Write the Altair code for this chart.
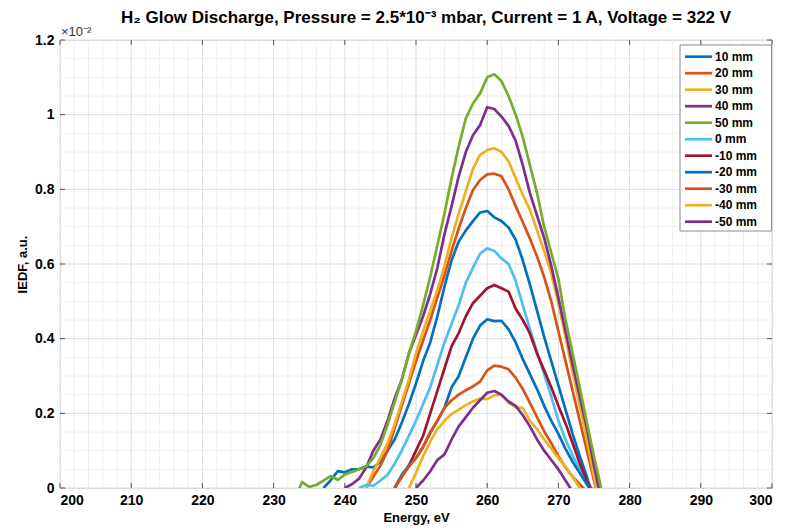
import altair as alt
import pandas as pd

# ---- data (IEDF in units of 1e-2, energy in eV, 1 eV steps from each start) ----
series_names = ["10 mm", "20 mm", "30 mm", "40 mm", "50 mm", "0 mm",
                "-10 mm", "-20 mm", "-30 mm", "-40 mm", "-50 mm"]
series_colors = ["#0072BD", "#D95319", "#EDB120", "#7E2F8E", "#77AC30", "#4DBEEE",
                 "#A2142F", "#0072BD", "#D95319", "#EDB120", "#7E2F8E"]

start_10 = 237
iedf_10 = [0, 0.02, 0.045, 0.042, 0.05, 0.05, 0.058, 0.055, 0.07, 0.1, 0.13, 0.175, 0.225,
           0.28, 0.34, 0.39, 0.46, 0.54, 0.61, 0.66, 0.69, 0.715, 0.738, 0.742, 0.725,
           0.715, 0.698, 0.665, 0.61, 0.545, 0.475, 0.405, 0.34, 0.275, 0.21, 0.145,
           0.085, 0.03, -0.03]

start_20 = 243
iedf_20 = [0, 0.03, 0.06, 0.1, 0.16, 0.22, 0.28, 0.34, 0.395, 0.45, 0.51, 0.57, 0.635,
           0.695, 0.75, 0.798, 0.825, 0.84, 0.842, 0.835, 0.8, 0.755, 0.712, 0.668, 0.62,
           0.565, 0.5, 0.42, 0.34, 0.26, 0.18, 0.1, 0.02, -0.06]

start_30 = 243
iedf_30 = [0, 0.045, 0.08, 0.12, 0.17, 0.23, 0.29, 0.36, 0.42, 0.475, 0.53, 0.595, 0.67,
           0.735, 0.795, 0.855, 0.892, 0.905, 0.91, 0.9, 0.875, 0.83, 0.785, 0.745, 0.69,
           0.635, 0.575, 0.495, 0.405, 0.31, 0.22, 0.13, 0.03, -0.06]

start_40 = 240
iedf_40 = [0, 0.01, 0.025, 0.055, 0.1, 0.13, 0.18, 0.24, 0.29, 0.36, 0.41, 0.46, 0.52,
           0.59, 0.68, 0.755, 0.835, 0.9, 0.945, 0.972, 1.02, 1.015, 0.995, 0.97, 0.93,
           0.865, 0.79, 0.73, 0.67, 0.595, 0.51, 0.42, 0.33, 0.245, 0.16, 0.06, -0.03]

start_50 = 233
iedf_50 = [-0.03, 0.016, 0.003, 0.008, 0.02, 0.032, 0.022, 0.036, 0.043, 0.05, 0.058, 0.08,
           0.115, 0.17, 0.23, 0.29, 0.36, 0.42, 0.49, 0.566, 0.65, 0.735, 0.83, 0.915, 0.99,
           1.03, 1.057, 1.1, 1.108, 1.09, 1.05, 1.0, 0.94, 0.865, 0.79, 0.7, 0.63, 0.56,
           0.45, 0.36, 0.27, 0.175, 0.085, 0.0]

start_0 = 242
iedf_0 = [0, 0.008, 0.006, 0.02, 0.035, 0.065, 0.1, 0.14, 0.18, 0.225, 0.27, 0.33, 0.39,
          0.44, 0.49, 0.55, 0.59, 0.628, 0.642, 0.635, 0.615, 0.6, 0.555, 0.49, 0.425,
          0.365, 0.305, 0.245, 0.18, 0.13, 0.087, 0.05, 0.02, -0.01]

start_m10 = 247
iedf_m10 = [0, 0.03, 0.06, 0.1, 0.14, 0.2, 0.26, 0.32, 0.38, 0.415, 0.46, 0.495, 0.515,
            0.535, 0.544, 0.535, 0.526, 0.48, 0.45, 0.414, 0.36, 0.315, 0.27, 0.22, 0.173,
            0.12, 0.066, 0.02, -0.02]

start_m20 = 247
iedf_m20 = [0, 0.035, 0.06, 0.08, 0.11, 0.147, 0.18, 0.215, 0.27, 0.3, 0.35, 0.4, 0.435,
            0.452, 0.447, 0.448, 0.425, 0.39, 0.345, 0.305, 0.265, 0.22, 0.18, 0.145, 0.105,
            0.07, 0.04, 0.01, -0.02]

start_m30 = 247
iedf_m30 = [0, 0.03, 0.057, 0.08, 0.11, 0.15, 0.18, 0.215, 0.235, 0.25, 0.262, 0.272, 0.285,
            0.315, 0.328, 0.325, 0.318, 0.295, 0.265, 0.228, 0.19, 0.152, 0.12, 0.085, 0.055,
            0.03, 0.01, -0.01]

start_m40 = 249
iedf_m40 = [0, 0.04, 0.085, 0.125, 0.158, 0.18, 0.198, 0.21, 0.222, 0.232, 0.24, 0.238,
            0.248, 0.25, 0.228, 0.216, 0.214, 0.18, 0.158, 0.13, 0.105, 0.08, 0.057, 0.03, 0.0]

start_m50 = 250
iedf_m50 = [0, 0.02, 0.045, 0.075, 0.09, 0.13, 0.165, 0.19, 0.215, 0.235, 0.255, 0.26,
            0.25, 0.232, 0.22, 0.195, 0.165, 0.13, 0.1, 0.075, 0.05, 0.02, -0.01]

x_ticks = [200, 210, 220, 230, 240, 250, 260, 270, 280, 290, 300]
y_ticks = [0, 0.2, 0.4, 0.6, 0.8, 1.0, 1.2]
x_minor = [v for v in range(200, 301, 2) if v % 10 != 0]
y_minor = [round(v * 0.05, 2) for v in range(0, 25) if v % 4 != 0]

starts = [start_10, start_20, start_30, start_40, start_50, start_0,
          start_m10, start_m20, start_m30, start_m40, start_m50]
values = [iedf_10, iedf_20, iedf_30, iedf_40, iedf_50, iedf_0,
          iedf_m10, iedf_m20, iedf_m30, iedf_m40, iedf_m50]

rows = []
for k, (name, s0, vals) in enumerate(zip(series_names, starts, values)):
    for i, v in enumerate(vals):
        rows.append({"series": name, "order": k, "energy": s0 + i, "iedf": v})
df = pd.DataFrame(rows)
legend_df = pd.DataFrame({"series": series_names})

FONT = "Liberation Sans"
W, H = 712, 448

xscale = alt.Scale(domain=[200, 300], nice=False, zero=False)
yscale = alt.Scale(domain=[0, 1.2], nice=False, zero=False)
cscale = alt.Scale(domain=series_names, range=series_colors)

minor_x = alt.Chart(pd.DataFrame({"v": x_minor})).mark_rule(
    color="#f0f0f0", strokeWidth=1).encode(x=alt.X("v:Q", scale=xscale))
minor_y = alt.Chart(pd.DataFrame({"v": y_minor})).mark_rule(
    color="#f0f0f0", strokeWidth=1).encode(y=alt.Y("v:Q", scale=yscale, axis=None))
major_x = alt.Chart(pd.DataFrame({"v": x_ticks})).mark_rule(
    color="#dedede", strokeWidth=1).encode(x=alt.X("v:Q", scale=xscale))
major_y = alt.Chart(pd.DataFrame({"v": y_ticks})).mark_rule(
    color="#dedede", strokeWidth=1).encode(y=alt.Y("v:Q", scale=yscale, axis=None))

lines = alt.Chart(df).mark_line(strokeWidth=2.7, clip=True, strokeJoin="round").encode(
    x=alt.X("energy:Q", scale=xscale,
            axis=alt.Axis(values=x_ticks, title="Energy, eV", grid=False, ticks=False,
                          domain=False, labelFontSize=14, labelFontWeight="bold",
                          labelFont=FONT, labelColor="black", labelPadding=5,
                          titleFont=FONT, titleFontSize=13, titleFontWeight="bold",
                          titleColor="black", titlePadding=4, format="d")),
    y=alt.Y("iedf:Q", scale=yscale,
            axis=alt.Axis(values=y_ticks, title="IEDF, a.u.", grid=False, ticks=False,
                          domain=False, labelFontSize=14, labelFontWeight="bold",
                          labelFont=FONT, labelColor="black", labelPadding=6,
                          labelExpr="datum.value == 0 ? '0' : datum.value == 1 ? '1' : format(datum.value, '.1f')",
                          titleFont=FONT, titleFontSize=13, titleFontWeight="bold",
                          titleColor="black", titlePadding=5, orient="left")),
    color=alt.Color("series:N", scale=cscale, legend=None),
    detail="order:O",
    order="energy:Q",
)

tick_len = 5
tick_bottom = alt.Chart(pd.DataFrame({"v": x_ticks})).mark_rule(color="#555").encode(
    x=alt.X("v:Q", scale=xscale), y=alt.value(H), y2=alt.value(H - tick_len))
tick_top = alt.Chart(pd.DataFrame({"v": x_ticks})).mark_rule(color="#555").encode(
    x=alt.X("v:Q", scale=xscale), y=alt.value(0), y2=alt.value(tick_len))
tick_left = alt.Chart(pd.DataFrame({"v": y_ticks})).mark_rule(color="#555").encode(
    y=alt.Y("v:Q", scale=yscale, axis=None), x=alt.value(0), x2=alt.value(tick_len))
tick_right = alt.Chart(pd.DataFrame({"v": y_ticks})).mark_rule(color="#555").encode(
    y=alt.Y("v:Q", scale=yscale, axis=None), x=alt.value(W), x2=alt.value(W - tick_len))

expo = alt.Chart(pd.DataFrame({"t": ["×10⁻²"]})).mark_text(
    align="left", baseline="alphabetic", fontSize=13, font=FONT, color="#333").encode(
    x=alt.value(1), y=alt.value(-4), text="t:N")

# ---- legend box (top-right, inside the axes) ----
leg_y = alt.Y("series:N", axis=None,
              scale=alt.Scale(type="point", domain=series_names, range=[16.7, 181.7],
                              padding=0))
leg_box = alt.Chart(pd.DataFrame({"a": [0]})).mark_rect(
    fill="white", stroke="#8c8c8c", strokeWidth=1).encode(
    x=alt.value(620), x2=alt.value(711.5), y=alt.value(5), y2=alt.value(191))
leg_sym = alt.Chart(legend_df).mark_rule(strokeWidth=2.7).encode(
    x=alt.value(625), x2=alt.value(652), y=leg_y,
    color=alt.Color("series:N", scale=cscale, legend=None))
leg_txt = alt.Chart(legend_df).mark_text(
    align="left", baseline="middle", fontSize=12, fontWeight="bold", font=FONT,
    color="black").encode(x=alt.value(655), y=leg_y, text="series:N")

chart = alt.layer(minor_x, minor_y, major_x, major_y, lines,
                  tick_bottom, tick_top, tick_left, tick_right, expo,
                  leg_box, leg_sym, leg_txt).resolve_scale(y="independent").properties(
    width=W, height=H,
    title=alt.TitleParams("H₂ Glow Discharge, Pressure = 2.5*10⁻³ mbar, Current = 1 A, Voltage = 322 V",
                          font=FONT, fontSize=17, fontWeight="bold", color="black",
                          anchor="middle", offset=-1, dx=10),
    padding={"left": 60, "top": 40, "right": 14, "bottom": 42},
    autosize=alt.AutoSizeParams(type="none"),
).configure_view(stroke="#666", strokeWidth=1).configure(background="white")

chart.save("out.html", embed_options={"renderer": "svg", "actions": False})
